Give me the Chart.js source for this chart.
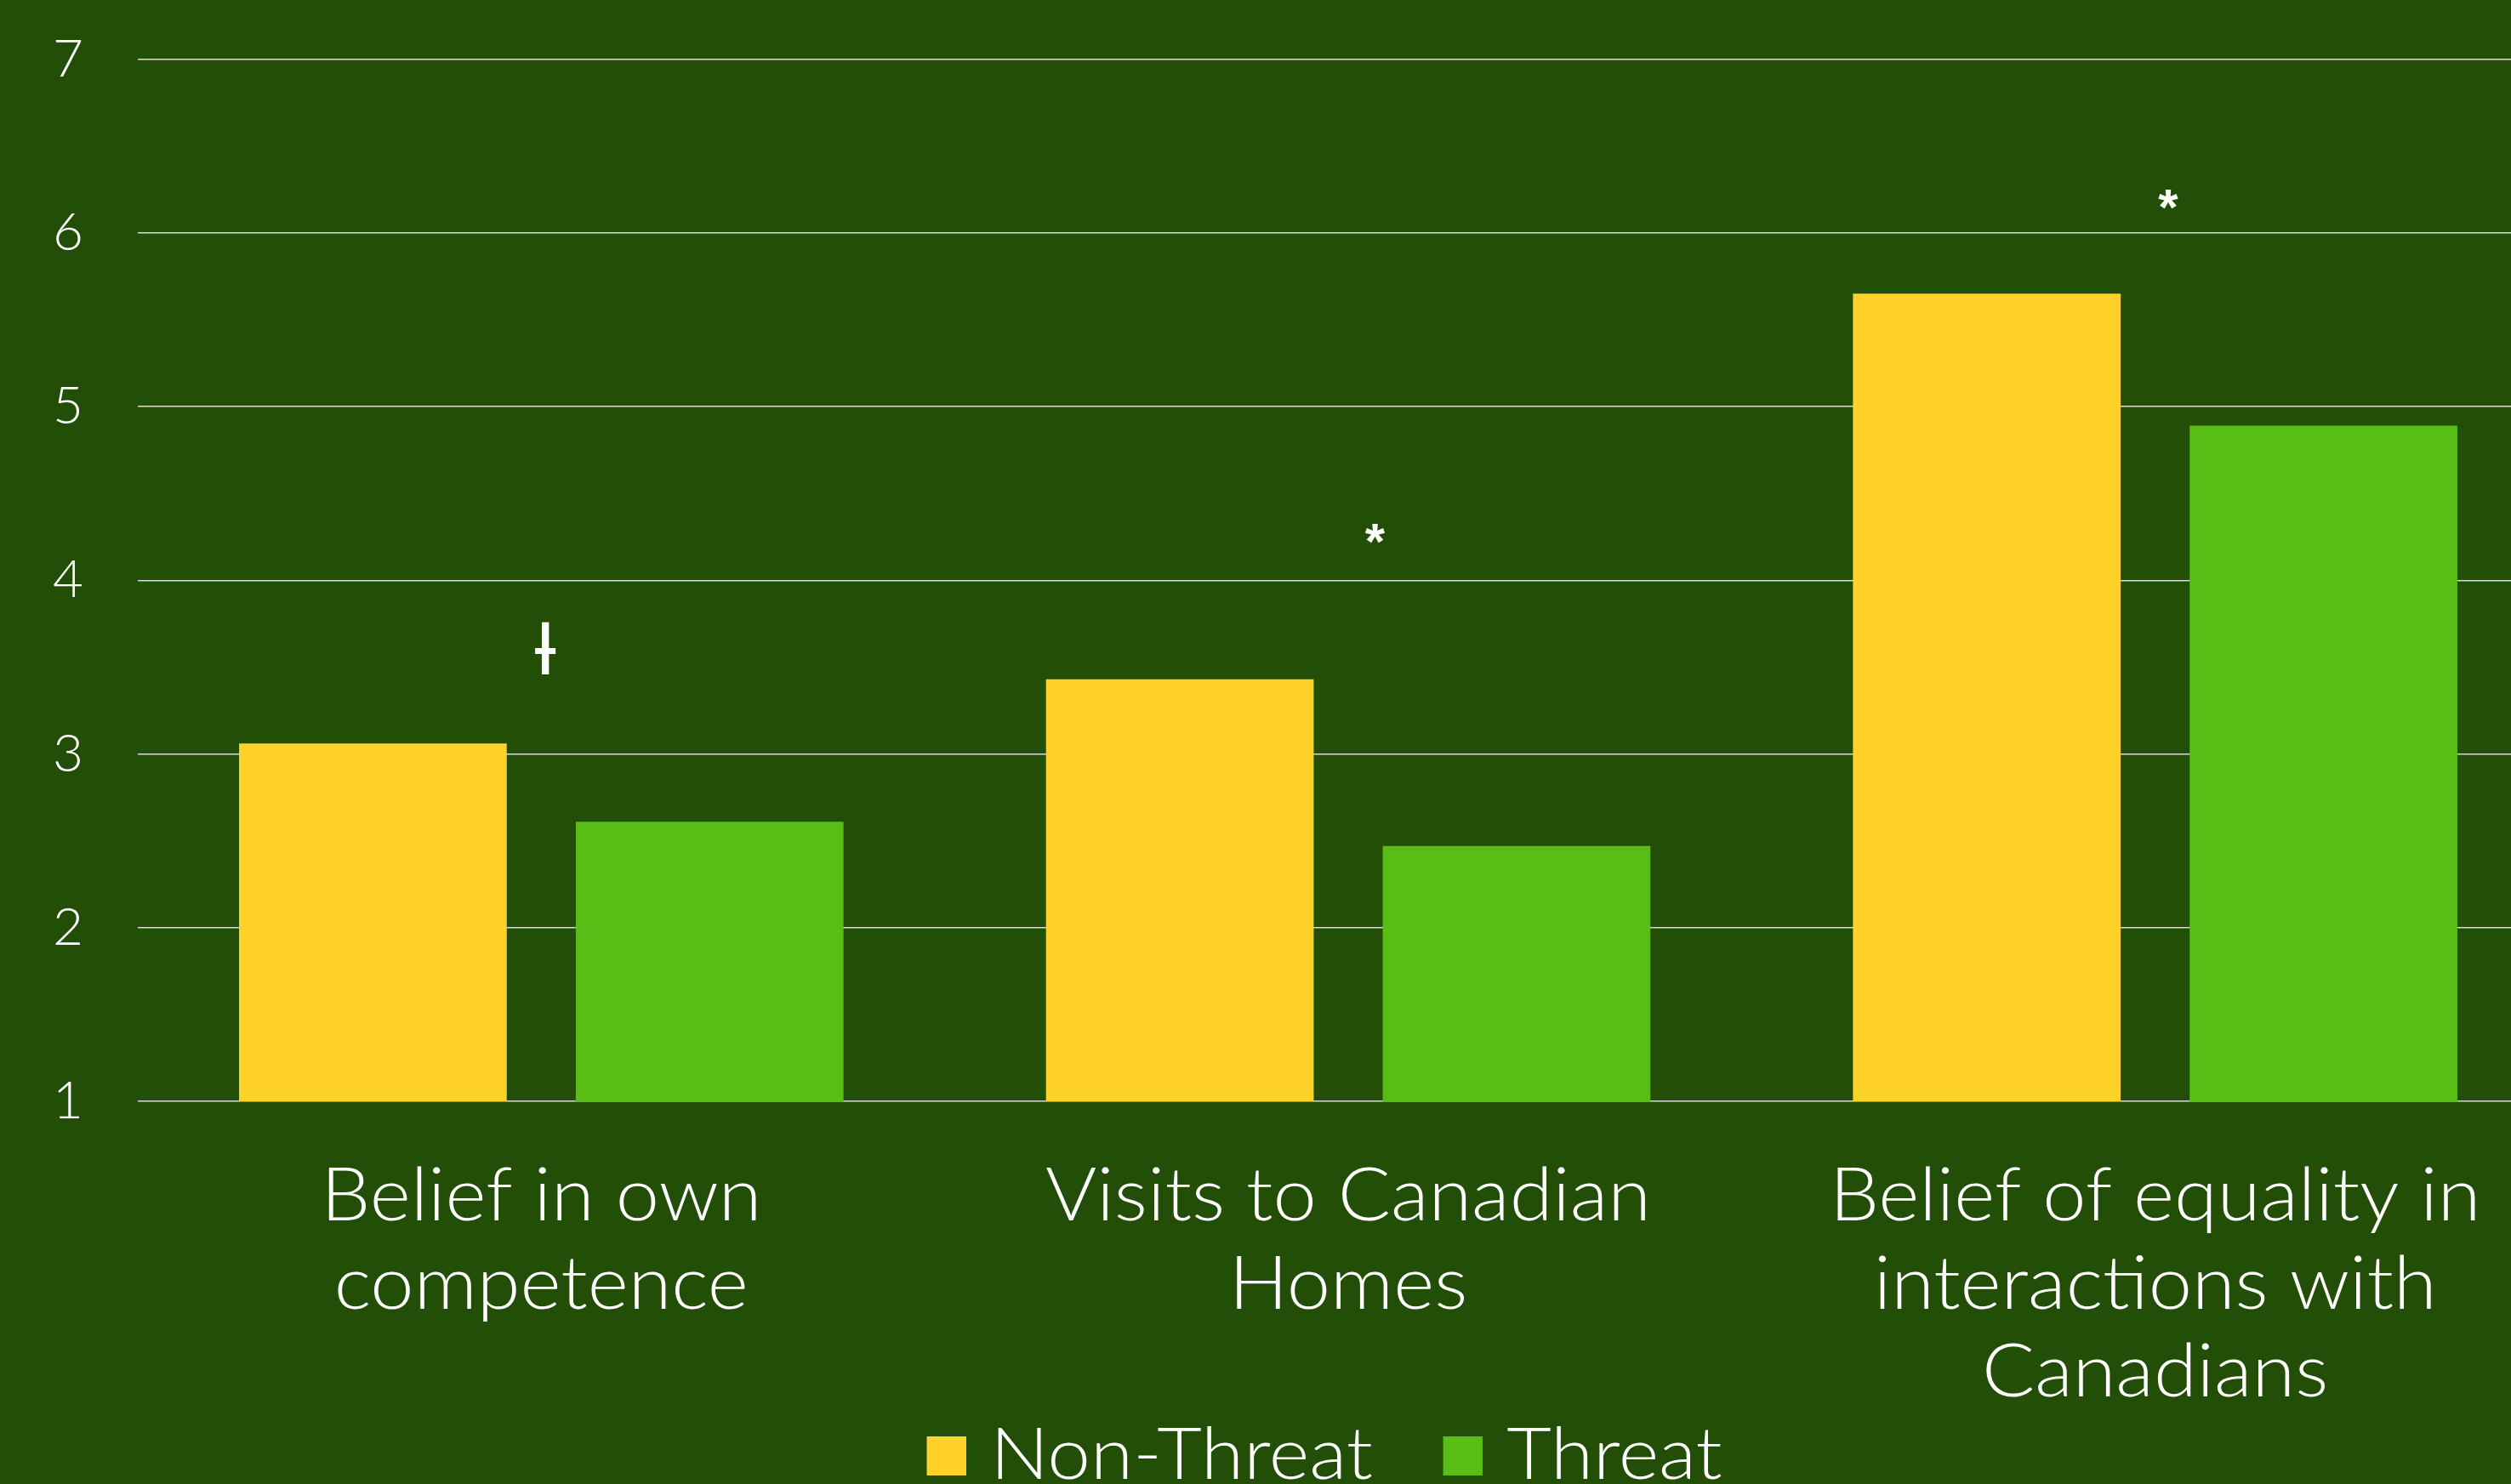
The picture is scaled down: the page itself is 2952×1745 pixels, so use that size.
<!DOCTYPE html>
<html><head><meta charset="utf-8">
<script src="https://cdn.jsdelivr.net/npm/chart.js@4.4.0/dist/chart.umd.min.js"></script>
<style>
html,body{margin:0;padding:0;background:#234e07;overflow:hidden;width:2952px;height:1745px}
#wrap{position:absolute;left:0;top:0;width:3008px;height:1745px}
canvas{display:block}
</style></head>
<body><div id="wrap"><canvas id="c" width="3008" height="1745"></canvas></div>
<script>
const categories = [["Belief in own","competence"],["Visits to Canadian","Homes"],["Belief of equality in","interactions with","Canadians"]];
const seriesNames = ["Non-Threat","Threat"];
const nonThreat = [3.06,3.43,5.65];
const threat = [2.61,2.47,4.89];
const yTicks = [1,2,3,4,5,6,7];
const sigMarks = ["\u0197","*","*"];
const sigPos = [0.005,1.033,2.016];
const sigLevel = [3.61,4.27,6.19];

const BG = '#234e07', YEL = '#ffd22a', GRN = '#58bd14';
const seriesColors = [YEL, GRN];
const FONT = "Lato, 'Open Sans', sans-serif";

// legend swatch: square drawn at the right end of a wider transparent canvas
function swatch(color){
  const c = document.createElement('canvas');
  c.width = 59; c.height = 46;
  const g = c.getContext('2d');
  g.fillStyle = color;
  g.fillRect(16, 0, 43, 46);
  return c;
}
const legendMarks = seriesColors.map(swatch);

const sigPlugin = {
  id: 'sig',
  afterDatasetsDraw(chart){
    const ctx = chart.ctx, xs = chart.scales.x, ys = chart.scales.y;
    ctx.save();
    ctx.fillStyle = '#ffffff';
    ctx.textAlign = 'center';
    ctx.textBaseline = 'alphabetic';
    sigMarks.forEach((m,i)=>{
      ctx.font = m === '*' ? "bold 60px 'Liberation Sans', sans-serif" : "84px 'DejaVu Sans', sans-serif";
      const mt = ctx.measureText(m);
      const x = xs.getPixelForValue(sigPos[i]);
      const y = ys.getPixelForValue(sigLevel[i]);
      ctx.fillText(m, x, y + (mt.actualBoundingBoxAscent - mt.actualBoundingBoxDescent)/2);
    });
    ctx.restore();
  }
};

const LEG_SCALE = 1.07, LEG_CENTER = 1557, LEG_MID_Y = 1712;
const X_LABEL_STRETCH = 1.07;
const stretch = {
  id: 'stretch',
  afterInit(chart){
    const lg = chart.legend;
    const origFit = lg.fit.bind(lg);
    lg.fit = function(){ origFit(); this.height = 1; };
    const orig = lg.draw.bind(lg);
    lg.draw = function(area){
      const ctx = chart.ctx;
      const lo = lg.options.labels;
      const saved = {top: lg.top, bottom: lg.bottom, height: lg.height};
      lg.top = LEG_MID_Y - lo.padding - lo.font.size/2;
      lg.bottom = chart.height;
      lg.height = lg.bottom - lg.top;
      const rowCenter = (lg.left + lg.right)/2;
      const cx = (LEG_CENTER - LEG_SCALE*rowCenter)/(1-LEG_SCALE);
      ctx.save();
      ctx.translate(cx,0); ctx.scale(LEG_SCALE,1); ctx.translate(-cx,0);
      try { orig(area); } finally {
        ctx.restore();
        Object.assign(lg, saved);
      }
    };
  },
  afterLayout(chart){
    const xs = chart.scales.x;
    if (xs._stretched) return;
    xs._stretched = true;
    const od = xs.drawLabels.bind(xs);
    xs.drawLabels = function(area){
      const ctx = this.ctx;
      const ft = CanvasRenderingContext2D.prototype.fillText;
      ctx.fillText = function(t,x,y,mw){
        this.save(); this.translate(x,y); this.scale(X_LABEL_STRETCH,1);
        ft.call(this,t,0,0); this.restore();
      };
      try { od(area); } finally { delete ctx.fillText; }
    };
  }
};

new Chart(document.getElementById('c'), {
  type: 'bar',
  data: {
    labels: categories,
    datasets: [
      {label: seriesNames[0], data: nonThreat, backgroundColor: seriesColors[0], borderWidth: 0},
      {label: seriesNames[1], data: threat, backgroundColor: seriesColors[1], borderWidth: 0}
    ]
  },
  options: {
    responsive: false,
    animation: false,
    devicePixelRatio: 1,
    categoryPercentage: 0.8346,
    barPercentage: 0.795,
    layout: {padding: {top: 69.5, left: 0, right: 0, bottom: 0}},
    plugins: {
      tooltip: {enabled: false},
      legend: {
        position: 'bottom',
        labels: {
          color: '#ffffff',
          font: {family: FONT, size: 85, weight: '300'},
          usePointStyle: true,
          pointStyleWidth: 27.5,
          boxHeight: 46,
          padding: 77,
          generateLabels(chart){
            const items = Chart.defaults.plugins.legend.labels.generateLabels(chart);
            items.forEach((it,i)=>{ it.pointStyle = legendMarks[i]; });
            return items;
          }
        }
      }
    },
    scales: {
      x: {
        grid: {display: false},
        border: {display: false},
        ticks: {
          color: '#ffffff', maxRotation: 0, minRotation: 0, autoSkip: false,
          padding: 53,
          font: {family: FONT, size: 86, weight: '300', lineHeight: 1.2}
        },
        afterFit(s){ s.height = 449; }
      },
      y: {
        min: yTicks[0], max: yTicks[yTicks.length-1],
        grid: {color: '#d9d9d9', lineWidth: 1.5, drawTicks: false},
        border: {display: false},
        ticks: {
          stepSize: 1, color: '#ffffff', padding: 64,
          font: {family: FONT, size: 62, weight: '300'}
        },
        afterFit(s){ s.width = 162; s.paddingTop = 0; s.paddingBottom = 0; }
      }
    }
  },
  plugins: [sigPlugin, stretch]
});
</script>
</body></html>
